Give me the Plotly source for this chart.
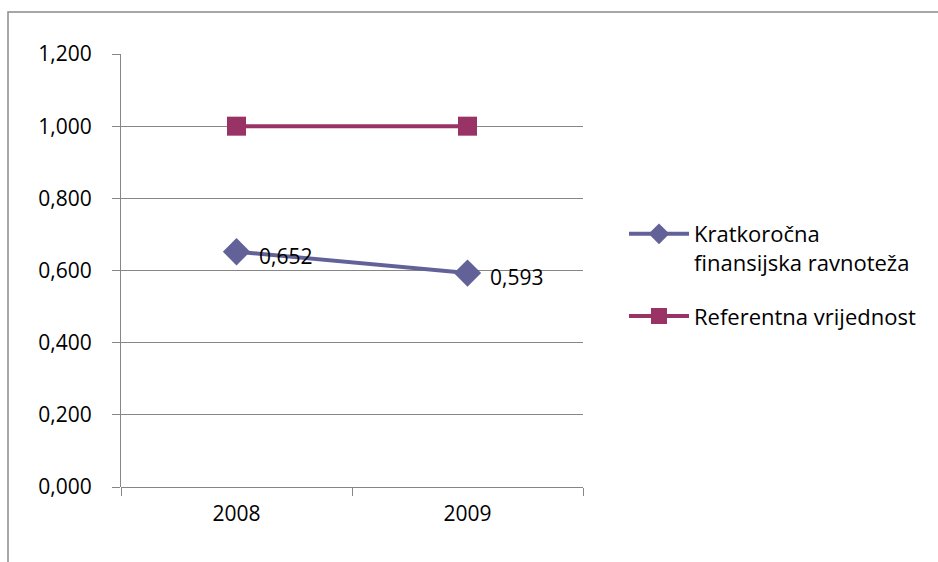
import plotly.graph_objects as go

# Chart data
years = ["2008", "2009"]
kratkorocna = [0.652, 0.593]
referentna = [1.000, 1.000]
y_ticks = [0.0, 0.2, 0.4, 0.6, 0.8, 1.0, 1.2]

FONT = "Open Sans"
FS = 21
GRID = "#868686"

fig = go.Figure()

fig.add_trace(go.Scatter(
    x=years, y=kratkorocna,
    name="Kratkoročna<br>finansijska ravnoteža",
    legendgroup="k",
    mode="lines+markers",
    line=dict(color="#626299", width=4),
    marker=dict(symbol="diamond", size=21, color="#626299"),
    cliponaxis=False,
))

fig.add_trace(go.Scatter(
    x=years, y=referentna,
    name="Referentna vrijednost",
    legendgroup="r",
    mode="lines+markers",
    line=dict(color="#993366", width=4),
    marker=dict(symbol="square", size=19, color="#993366"),
    cliponaxis=False,
))

# value labels next to the first series' points (category index positions)
for i, yv in enumerate(kratkorocna):
    fig.add_annotation(
        x=i, y=yv, xref="x", yref="y",
        text=f"{yv:.3f}".replace(".", ","),
        xanchor="left", yanchor="middle",
        xshift=20, yshift=-4, showarrow=False,
        font=dict(family=FONT, size=FS, color="#000000"),
    )

W, H = 938, 562
L, R, T, B = 121, 583, 54, 487
pw, ph = R - L, B - T

# outer chart frame (only top and left edges fall inside the page)
fig.add_shape(
    type="rect", xref="paper", yref="paper",
    x0=(8 - L) / pw, x1=(W + 300 - L) / pw,
    y0=(B - (H + 300)) / ph, y1=(B - 12) / ph,
    line=dict(color="#8a8a8a", width=1.5),
    fillcolor="rgba(0,0,0,0)", layer="below",
)

fig.update_layout(
    width=W, height=H,
    margin=dict(l=L, r=W - R, t=T, b=H - B),
    paper_bgcolor="white", plot_bgcolor="white",
    separators=",.",
    font=dict(family=FONT, size=FS, color="#000000"),
    showlegend=True,
    legend=dict(
        x=(624 - L) / pw, y=(B - 213) / ph,
        xanchor="left", yanchor="top",
        valign="top",
        font=dict(family=FONT, size=22, color="#000000"),
        tracegroupgap=22,
        itemwidth=60,
    ),
    xaxis=dict(
        type="category",
        range=[-0.5, 1.5],
        showgrid=False,
        showline=False,
        ticks="outside", ticklen=8, tickcolor=GRID,
        tickson="boundaries",
        tickfont=dict(family=FONT, size=FS),
        ticklabelstandoff=12,
        fixedrange=True,
    ),
    yaxis=dict(
        range=[0, 1.2],
        tickvals=y_ticks,
        tickformat=".3f",
        showgrid=True, gridcolor=GRID, gridwidth=1,
        showline=True, linecolor=GRID, linewidth=1,
        ticks="outside", ticklen=8, tickcolor=GRID,
        tickfont=dict(family=FONT, size=FS),
        ticklabelstandoff=16,
        zeroline=True, zerolinecolor=GRID, zerolinewidth=1,
        fixedrange=True,
    ),
)

fig.write_html("out.html")
